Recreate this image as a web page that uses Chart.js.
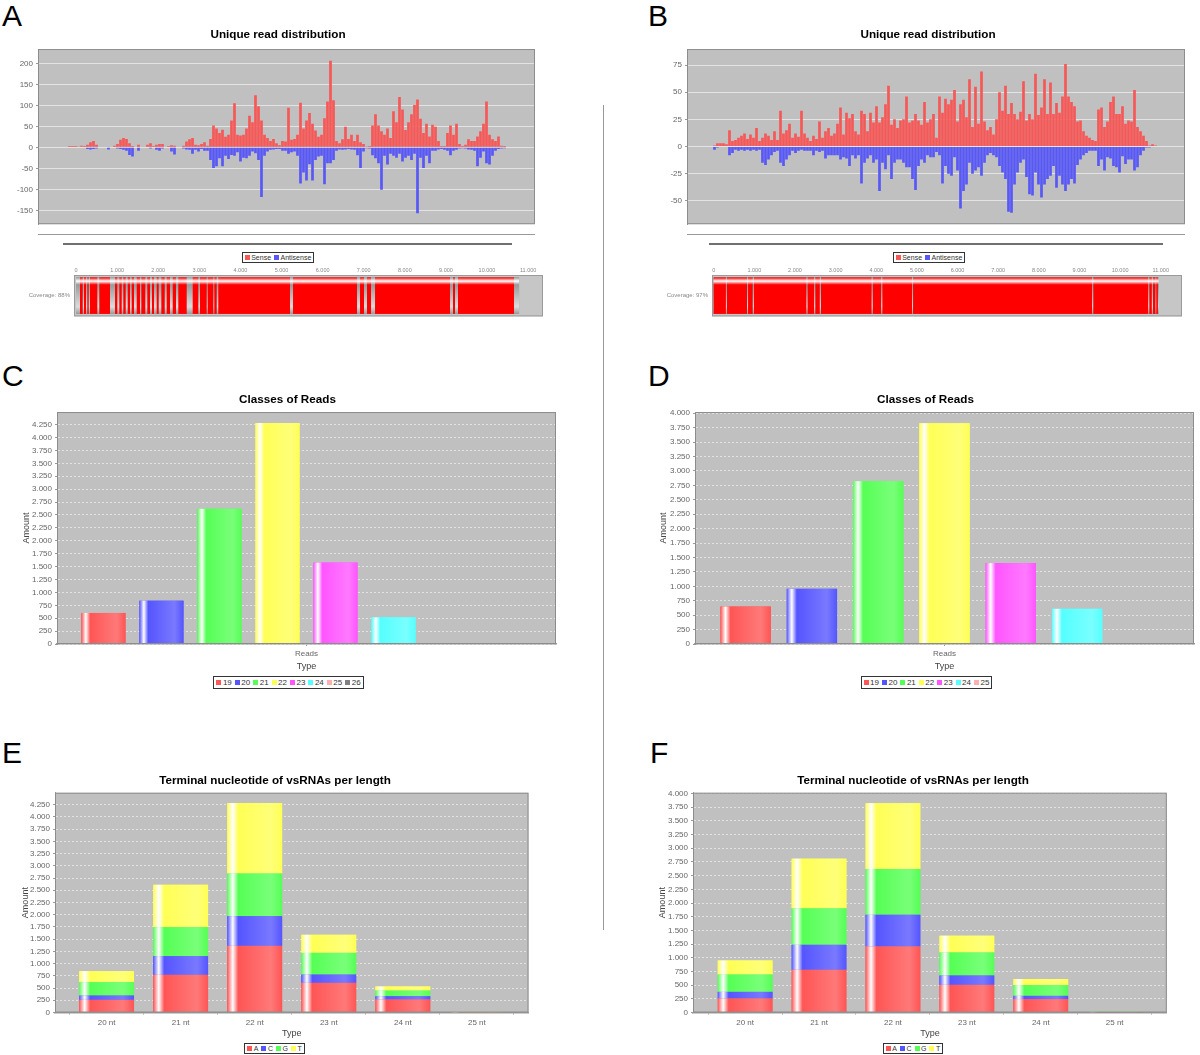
<!DOCTYPE html>
<html>
<head>
<meta charset="utf-8">
<title>vsRNA read charts</title>
<script src="https://cdn.jsdelivr.net/npm/chart.js@4.4.1/dist/chart.umd.min.js"></script>
<style>
html, body { margin:0; padding:0; background:#fff; }
body { position:relative; width:1200px; height:1055px; overflow:hidden; font-family:"Liberation Sans", Arial, sans-serif; }
canvas { position:absolute; }
.letter { position:absolute; font-size:30px; line-height:30px; color:#000; }
.rule { position:absolute; }
.legend { position:absolute; display:flex; justify-content:center; }
.legend .box { border:1px solid #333; background:#fff; padding:0 2px; color:#333; white-space:nowrap; display:flex; align-items:center; }
.legend .sw { display:inline-block; width:5px; height:5px; margin-right:1.5px; }
.legend .it { display:inline-flex; align-items:center; margin-right:3px; }
.legend .it:last-child { margin-right:0; }
</style>
</head>
<body>

<div class="letter" style="left:2px;top:1px">A</div>
<div class="letter" style="left:648px;top:1px">B</div>
<div class="letter" style="left:2px;top:361px">C</div>
<div class="letter" style="left:648px;top:361px">D</div>
<div class="letter" style="left:2px;top:738px">E</div>
<div class="letter" style="left:650px;top:738px">F</div>

<div class="rule" style="left:603px;top:105px;width:1px;height:825px;background:#999"></div>

<canvas id="cA" width="556" height="210" style="left:0;top:22px"></canvas>
<canvas id="covA" width="548" height="62" style="left:0;top:262px"></canvas>
<canvas id="cB" width="532" height="210" style="left:662px;top:22px"></canvas>
<canvas id="covB" width="540" height="62" style="left:650px;top:262px"></canvas>
<canvas id="cC" width="575" height="286" style="left:0;top:388px"></canvas>
<canvas id="cD" width="549" height="286" style="left:651px;top:388px"></canvas>
<canvas id="cE" width="550" height="271" style="left:0;top:770px"></canvas>
<canvas id="cF" width="550" height="271" style="left:638px;top:770px"></canvas>

<div class="rule" style="left:38px;top:234px;width:497px;height:1px;background:#9a9a9a"></div>
<div class="rule" style="left:63px;top:243px;width:449px;height:2px;background:#707070"></div>
<div class="rule" style="left:687px;top:234px;width:498px;height:1px;background:#9a9a9a"></div>
<div class="rule" style="left:709px;top:243px;width:454px;height:2px;background:#707070"></div>

<script>
// ---------- data ----------

// unique read distribution, reads per 75 nt bin along the genome
const binNt = 75;

const senseA = [3,3,3,2,4,3,6,12,15,6,
  0,0,0,0,0,4,8,18,22,20,
  10,3,0,6,0,0,6,10,3,6,
  8,8,0,3,5,4,0,0,4,14,
  19,22,6,5,8,12,4,20,52,45,
  34,42,25,30,64,105,30,28,30,45,
  75,60,124,98,64,30,22,15,20,10,
  5,15,14,94,18,20,30,106,45,64,
  82,56,40,25,30,69,109,206,112,15,
  10,19,49,20,30,15,30,12,8,2,
  3,52,79,52,38,30,45,22,86,60,
  120,90,41,60,79,101,114,68,34,56,
  26,54,49,15,3,3,34,52,30,56,
  8,3,6,19,15,15,26,38,56,109,
  30,19,15,26,4,3];

const antisenseA = [0,0,0,0,0,0,-4,-5,-4,-3,
  0,0,0,-5,0,0,-3,-4,-6,-8,
  -18,-22,0,-8,0,0,0,-3,0,-6,
  -8,-3,0,0,-10,-17,0,0,-3,-5,
  -6,-15,-6,-10,-4,-8,-8,-30,-49,-45,
  -26,-45,-20,-28,-18,-20,-12,-34,-25,-26,
  -20,-10,-14,-30,-118,-20,-10,-6,-5,-4,
  -4,-8,-8,-15,-12,-10,-20,-86,-60,-79,
  -40,-79,-30,-22,-20,-88,-38,-38,-30,-8,
  -5,-6,-5,-4,-5,-6,-19,-49,-10,-2,
  -3,-19,-26,-38,-101,-20,-41,-15,-20,-25,
  -15,-34,-25,-20,-30,-15,-157,-25,-49,-20,
  -38,-8,-8,-5,-4,-6,-8,-19,-8,-6,
  -3,-2,-3,-5,-6,-8,-45,-25,-10,-38,
  -41,-20,-8,-4,-3,-2];

const senseB = [1,3,3,3,2,15,5,6,8,10,
  12,7,11,8,17,5,8,12,10,6,
  14,6,33,12,15,21,8,12,9,33,
  12,8,5,10,7,23,8,14,17,10,
  12,21,36,11,31,26,30,14,11,33,
  30,14,31,22,37,22,27,39,56,20,
  25,17,24,25,46,22,24,30,24,20,
  41,22,25,30,8,46,31,44,39,43,
  52,23,39,43,27,62,18,55,21,69,
  23,15,18,11,25,50,33,56,30,40,
  30,25,32,60,24,30,25,67,29,36,
  62,30,59,30,40,31,46,76,46,41,
  37,23,24,14,10,8,6,5,34,36,
  18,23,41,46,30,30,37,21,24,23,
  52,18,14,10,5,1,2,1];

const antisenseB = [-3,-1,0,0,0,-8,-6,-3,-4,-3,
  -4,-3,-4,-3,-4,-3,-15,-17,-12,-8,
  -5,-4,-15,-18,-12,-8,-4,-6,-4,-3,
  -4,-4,-4,-8,-4,-5,-4,-11,-8,-8,
  -8,-8,-12,-10,-11,-18,-8,-11,-8,-34,
  -15,-11,-8,-15,-12,-41,-15,-21,-8,-30,
  -15,-12,-12,-15,-19,-19,-30,-40,-18,-12,
  -15,-8,-10,-10,-5,-8,-34,-18,-25,-27,
  -10,-22,-57,-41,-35,-15,-25,-22,-19,-27,
  -15,-8,-6,-8,-10,-18,-24,-30,-60,-61,
  -35,-24,-15,-12,-28,-44,-45,-24,-35,-47,
  -35,-30,-27,-18,-38,-27,-35,-41,-35,-30,
  -34,-17,-12,-8,-6,-4,-4,-4,-18,-12,
  -22,-10,-11,-18,-19,-24,-9,-16,-12,-12,
  -22,-19,-8,-4,-1,-1,0,0];

// genome coverage (nt intervals)
const coverageLabelA = 'Coverage: 88%';
const genomeA = [0, 10780];
const coveredA = [[97,163],[195,243],[275,309],[340,518],[567,827],[949,1005],[1054,1112],
  [1151,1209],[1258,1314],[1355,1411],[1477,1557],[1589,1686],[1735,1800],[1849,1898],
  [1963,2012],[2076,2158],[2207,2287],[2353,2433],[2489,2693],[2839,2976],[3017,3180],
  [3204,3341],[3365,3423],[3462,5207],[5280,6837],[6910,7007],[7080,7178],[7275,9100],
  [9173,9221],[9294,10657]];

const coverageLabelB = 'Coverage: 97%';
const genomeB = [0, 10950];
const coveredB = [[0,300],[325,820],[845,960],[990,2280],[2310,2470],[2500,2610],
  [2640,3885],[3915,4120],[4150,4880],[4905,9310],[9340,10690],[10720,10780],
  [10810,10870],[10890,10930]];

// classes of reads
const readLengths = ['19','20','21','22','23','24','25','26'];
const classesC = [602, 840, 2620, 4282, 1578, 516, 19, 2];
const classesD = [649, 956, 2822, 3826, 1402, 609, 17];

// terminal nucleotide per length
const nucleotides = ['A','C','G','T'];
const lengthsEF = ['20 nt','21 nt','22 nt','23 nt','24 nt','25 nt'];
const termA_E = [259, 771, 1364, 607, 266, 5];
const termC_E = [89, 382, 607, 170, 68, 1];
const termG_E = [273, 593, 873, 444, 116, 4];
const termT_E = [225, 866, 1439, 368, 82, 2];
const termA_F = [256, 781, 1207, 506, 244, 6];
const termC_F = [122, 457, 580, 171, 61, 2];
const termG_F = [317, 665, 835, 421, 195, 4];
const termT_F = [256, 908, 1201, 305, 110, 2];

// ---------- style ----------
const seriesColors = ['#FF5555','#5555FF','#55FF55','#FFFF55','#FF55FF','#55FFFF','#FFAFAF','#808080'];
const readColors = ['#F65858', '#5858F6'];
const tickGrey = '#666';
const tickFont = {size: 8};

Chart.defaults.font.family = '"Liberation Sans", Arial, sans-serif';
Chart.defaults.animation = false;
Chart.defaults.plugins.legend.display = false;
Chart.defaults.plugins.tooltip.enabled = false;

function dotThousands(v) {
  const s = String(Math.abs(Math.round(v))).replace(/\B(?=(\d{3})+(?!\d))/g, '.');
  return (v < 0 ? '-' : '') + s;
}

function brighter(hex) {
  const n = parseInt(hex.slice(1), 16);
  let ch = [(n >> 16) & 255, (n >> 8) & 255, n & 255];
  ch = ch.map(c => (c > 0 && c < 3) ? 3 : Math.min(255, Math.round(c / 0.7)));
  return 'rgb(' + ch.join(',') + ')';
}

const fixedWidth = w => s => { s.width = w; };
const fixedHeight = h => s => { s.height = h; };

// ticks on whole multiples of the step inside the axis range
const stepTicks = step => s => {
  const out = [];
  for (let k = Math.ceil(s.min / step - 1e-9); k * step <= s.max + 1e-9; k++) {
    out.push({value: Math.round(k * step * 1000) / 1000});
  }
  s.ticks = out;
};

// empty right-hand axis, only used to hold the right margin
function padAxis(w) {
  return {type: 'linear', position: 'right', display: true,
    grid: {display: false, drawTicks: false}, border: {display: false},
    ticks: {display: false}, afterFit: fixedWidth(w)};
}

function titleOpts(text, top, bottom) {
  return {display: true, text: text, color: '#000',
    font: {size: 11.7, weight: 'bold'}, padding: {top: top, bottom: bottom}};
}

// grey plot background and outline
const plotFrame = {
  id: 'plotFrame',
  beforeDraw(chart, args, opts) {
    const a = chart.chartArea, ctx = chart.ctx;
    ctx.save();
    ctx.fillStyle = opts.fill || '#c0c0c0';
    ctx.fillRect(a.left, a.top, a.right - a.left, a.bottom - a.top);
    ctx.restore();
  },
  afterDraw(chart, args, opts) {
    const a = chart.chartArea, ctx = chart.ctx;
    ctx.save();
    ctx.strokeStyle = opts.stroke || '#8c8c8c';
    ctx.lineWidth = 1;
    ctx.strokeRect(a.left + 0.5, a.top + 0.5, a.right - a.left - 1, a.bottom - a.top - 1);
    ctx.restore();
  }
};

// the shiny bar look: white stripe near the leading edge
const gloss = {
  id: 'gloss',
  afterDatasetsDraw(chart) {
    const ctx = chart.ctx;
    ctx.save();
    const metas = chart.getSortedVisibleDatasetMetas().slice().reverse();
    metas.forEach(meta => {
      const c0 = chart.data.datasets[meta.index].backgroundColor;
      const c1 = brighter(c0);
      meta.data.forEach(bar => {
        const p = bar.getProps(['x', 'y', 'base', 'width', 'height', 'horizontal'], true);
        let x0, y0, w, h, g;
        if (p.horizontal) {
          y0 = p.y - p.height / 2; h = p.height;
          x0 = Math.min(p.x, p.base); w = Math.abs(p.x - p.base);
          g = ctx.createLinearGradient(0, y0, 0, y0 + h);
        } else {
          x0 = p.x - p.width / 2; w = p.width;
          y0 = Math.min(p.y, p.base); h = Math.abs(p.base - p.y);
          g = ctx.createLinearGradient(x0, 0, x0 + w, 0);
        }
        if (!(w > 0 && h > 0)) return;
        g.addColorStop(0, c0);
        g.addColorStop(0.1, '#ffffff');
        g.addColorStop(0.2, c0);
        g.addColorStop(0.8, c1);
        g.addColorStop(1, c0);
        ctx.fillStyle = g;
        ctx.fillRect(x0, y0, w, h);
      });
    });
    ctx.restore();
  }
};

// ---------- unique read distribution (A, B) ----------
function readChart(id, sense, antisense, xMin, xMax, yMin, yMax, step, yWidth, padW) {
  const toPoints = arr => arr.map((v, i) => ({x: i * binNt, y: v}));
  new Chart(document.getElementById(id), {
    type: 'bar',
    data: {datasets: [
      {label: 'Sense', data: toPoints(sense), backgroundColor: readColors[0],
        grouped: false, categoryPercentage: 1, barPercentage: 0.9},
      {label: 'Antisense', data: toPoints(antisense), backgroundColor: readColors[1],
        grouped: false, categoryPercentage: 1, barPercentage: 0.9}
    ]},
    options: {
      responsive: false,
      layout: {padding: 0},
      plugins: {title: titleOpts('Unique read distribution', 6, 7), plotFrame: {}},
      scales: {
        x: {type: 'linear', display: false, min: xMin, max: xMax, offset: false},
        y: {min: yMin, max: yMax,
          ticks: {color: tickGrey, font: tickFont, padding: 3},
          grid: {color: 'rgba(255,255,255,0.55)', tickColor: '#999', tickLength: 2},
          border: {color: '#999'},
          afterBuildTicks: stepTicks(step),
          afterFit: fixedWidth(yWidth)},
        pad: padAxis(padW)
      }
    },
    plugins: [plotFrame]
  });
}

readChart('cA', senseA, antisenseA, -787.5, 11637.5, -183, 234, 50, 38, 21);
readChart('cB', senseB, antisenseB, -687.5, 11762.5, -71.5, 89.7, 25, 25, 9);

// ---------- coverage strips ----------
function coverageChart(id, label, genome, covered, xMin, xMax, yWidth, padRight) {
  new Chart(document.getElementById(id), {
    type: 'bar',
    data: {labels: [label], datasets: [
      {label: 'covered', data: covered.map(r => ({x: r, y: label})), backgroundColor: '#FF0000',
        grouped: false, categoryPercentage: 1, barPercentage: 0.88, order: 0},
      {label: 'genome', data: [{x: genome, y: label}], backgroundColor: '#9A9A9A',
        grouped: false, categoryPercentage: 1, barPercentage: 0.88, order: 1}
    ]},
    options: {
      indexAxis: 'y',
      responsive: false,
      layout: {padding: {right: padRight, bottom: 0}},
      plugins: {plotFrame: {fill: '#c6c6c6', stroke: '#9a9a9a'}},
      scales: {
        x: {type: 'linear', position: 'top', min: xMin, max: xMax, offset: false,
          grid: {display: false, drawTicks: false}, border: {display: false},
          ticks: {autoSkip: false, maxRotation: 0,
            color: '#888', font: {size: 5.5}, padding: 1, callback: v => dotThousands(v)},
          afterBuildTicks: stepTicks(1000),
          afterFit: fixedHeight(13)},
        y: {grid: {display: false, drawTicks: false}, border: {display: false},
          ticks: {color: '#888', font: {size: 6}, padding: 4},
          afterFit: fixedWidth(yWidth)}
      }
    },
    plugins: [plotFrame, gloss]
  });
}

coverageChart('covA', coverageLabelA, genomeA, coveredA, -49, 11362, 74, 5);
coverageChart('covB', coverageLabelB, genomeB, coveredB, -42, 11523, 62, 8);

// ---------- shared axis pieces for C-F ----------
function amountAxis(max, yWidth, titleLeft) {
  return {min: 0, max: max,
    ticks: {color: tickGrey, font: tickFont, padding: 3, callback: v => dotThousands(v)},
    grid: {color: '#e2e2e2', tickColor: '#999', tickLength: 2},
    border: {color: '#999', dash: [2, 2]},
    title: {display: true, text: 'Amount', color: '#444', font: {size: 9},
      padding: {top: titleLeft, bottom: 0}},
    afterBuildTicks: stepTicks(250),
    afterFit: fixedWidth(yWidth)};
}

function typeTitle() {
  return {display: true, text: 'Type', color: '#444', font: {size: 9}, padding: {top: 0, bottom: 1.6}};
}

// ---------- classes of reads (C, D) ----------
function classesChart(id, values, max, yWidth, titleLeft, padW) {
  new Chart(document.getElementById(id), {
    type: 'bar',
    data: {labels: ['Reads'], datasets: values.map((v, i) => ({
      label: readLengths[i], data: [v], backgroundColor: seriesColors[i],
      categoryPercentage: 0.93, barPercentage: 0.759}))},
    options: {
      responsive: false,
      layout: {padding: 0},
      plugins: {title: titleOpts('Classes of Reads', 5, 5), plotFrame: {}},
      scales: {
        x: {grid: {offset: false, drawOnChartArea: false, tickLength: 2, tickColor: '#999'},
          border: {color: '#999', width: 1.5},
          ticks: {color: tickGrey, font: tickFont, padding: 3},
          title: typeTitle(),
          afterFit: fixedHeight(30)},
        y: amountAxis(max, yWidth, titleLeft),
        pad: padAxis(padW)
      }
    },
    plugins: [plotFrame, gloss]
  });
}

classesChart('cC', classesC, 4495, 57, 21.4, 19);
classesChart('cD', classesD, 4020, 44, 7.6, 6);

// ---------- terminal nucleotide (E, F) ----------
function terminalChart(id, series, max, xMin, xMax, yWidth, titleLeft, padW) {
  new Chart(document.getElementById(id), {
    type: 'bar',
    data: {datasets: series.map((arr, i) => ({
      label: nucleotides[i], data: arr.map((v, j) => ({x: j, y: v})),
      backgroundColor: seriesColors[i], categoryPercentage: 1, barPercentage: 0.74}))},
    options: {
      responsive: false,
      layout: {padding: 0},
      plugins: {title: titleOpts('Terminal nucleotide of vsRNAs per length', 4, 4.7), plotFrame: {}},
      scales: {
        x: {type: 'linear', stacked: true, min: xMin, max: xMax, offset: false,
          grid: {drawOnChartArea: false, tickLength: 2, tickColor: '#999'},
          border: {color: '#999', width: 1.5},
          ticks: {autoSkip: false, maxRotation: 0,
            color: tickGrey, font: tickFont, padding: 3, callback: v => lengthsEF[v] || ''},
          afterBuildTicks: stepTicks(1),
          title: typeTitle(),
          afterFit: fixedHeight(28.5)},
        y: Object.assign(amountAxis(max, yWidth, titleLeft), {stacked: true}),
        pad: padAxis(padW)
      }
    },
    plugins: [plotFrame, gloss]
  });
}

terminalChart('cE', [termA_E, termC_E, termG_E, termT_E], 4495, -0.697, 5.697, 55, 20.3, 21.5);
terminalChart('cF', [termA_F, termC_F, termG_F, termT_F], 4015, -0.705, 5.705, 55, 19.6, 21.2);

// ---------- legends ----------
function addLegend(cx, top, names, colors, fontSize, lineH) {
  const wrap = document.createElement('div');
  wrap.className = 'legend';
  wrap.style.left = (cx - 150) + 'px';
  wrap.style.width = '300px';
  wrap.style.top = top + 'px';
  const box = document.createElement('div');
  box.className = 'box';
  box.style.fontSize = fontSize + 'px';
  box.style.lineHeight = lineH + 'px';
  names.forEach((n, i) => {
    const it = document.createElement('span');
    it.className = 'it';
    const sw = document.createElement('span');
    sw.className = 'sw';
    sw.style.background = colors[i];
    it.appendChild(sw);
    it.appendChild(document.createTextNode(n));
    box.appendChild(it);
  });
  wrap.appendChild(box);
  document.body.appendChild(wrap);
}

addLegend(278, 252, ['Sense', 'Antisense'], readColors, 7, 9);
addLegend(929, 252, ['Sense', 'Antisense'], readColors, 7, 9);
addLegend(288.5, 676, readLengths, seriesColors, 8, 11);
addLegend(926.5, 676, readLengths.slice(0, 7), seriesColors, 8, 11);
addLegend(274.5, 1043, nucleotides, seriesColors, 7, 9);
addLegend(913, 1043, nucleotides, seriesColors, 7, 9);
</script>
</body>
</html>
